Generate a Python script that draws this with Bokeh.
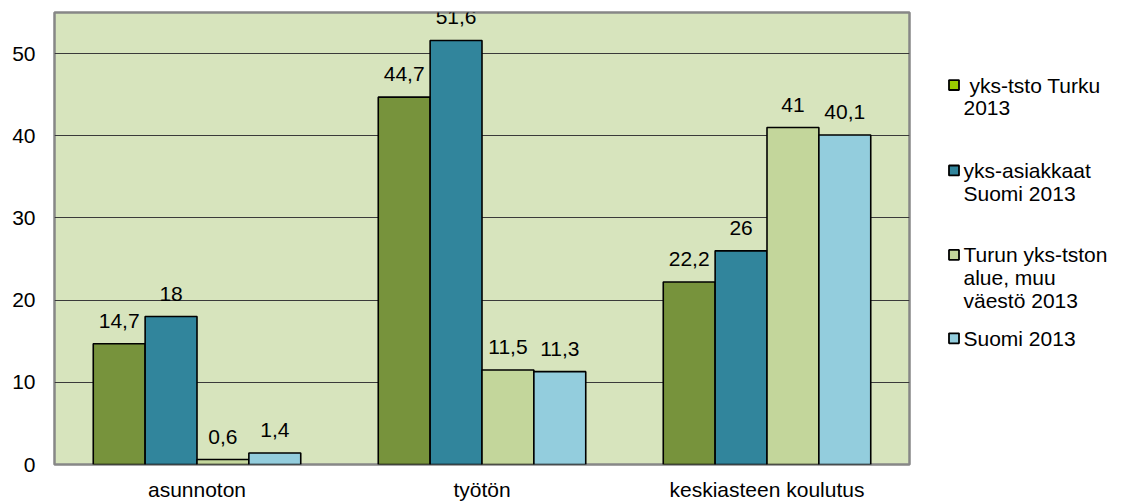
from bokeh.plotting import figure
from bokeh.models import ColumnDataSource, Range1d, FactorRange, LabelSet, FixedTicker
from bokeh.transform import dodge
from bokeh.layouts import row
from bokeh.embed import file_html
from bokeh.resources import INLINE
from bokeh.core.properties import value

categories = ["asunnoton", "työtön", "keskiasteen koulutus"]
series_names = [" yks-tsto Turku\n2013", "yks-asiakkaat\nSuomi 2013",
                "Turun yks-tston\nalue, muu\nväestö 2013", "Suomi 2013"]
turku_yks = [14.7, 44.7, 22.2]
suomi_yks = [18, 51.6, 26]
turku_muu = [0.6, 11.5, 41]
suomi = [1.4, 11.3, 40.1]
series_values = [turku_yks, suomi_yks, turku_muu, suomi]
y_ticks = [0, 10, 20, 30, 40, 50]

bar_colors = ["#77933C", "#31859C", "#C3D69B", "#93CDDD"]
legend_colors = ["#99CC00", "#31859C", "#C3D69B", "#93CDDD"]
FONT = "Liberation Sans"
FS = "21px"
TOP, BOTTOM = 12, 36
H = 503

p = figure(x_range=FactorRange(*categories), y_range=Range1d(0, 55),
           width=913, height=H, output_backend="svg", toolbar_location=None,
           min_border_left=54, min_border_right=4, min_border_top=TOP, min_border_bottom=BOTTOM)
p.background_fill_color = "#D7E4BD"
p.border_fill_color = "white"
p.outline_line_color = "#878787"
p.outline_line_width = 2.5

bw = 0.182
offsets = [-1.5 * bw, -0.5 * bw, 0.5 * bw, 1.5 * bw]
for vals, col, off in zip(series_values, bar_colors, offsets):
    src = ColumnDataSource(dict(cat=categories, v=vals,
                                lbl=[f"{x:g}".replace(".", ",") for x in vals]))
    p.vbar(x=dodge("cat", off, range=p.x_range), top="v", width=bw, source=src,
           fill_color=col, line_color="black", line_width=1.6)
    p.add_layout(LabelSet(x=dodge("cat", off, range=p.x_range), y="v", text="lbl",
                          source=src, y_offset=16, text_align="center",
                          text_baseline="alphabetic", text_font=value(FONT),
                          text_font_size=FS, text_color="black"))

p.xgrid.grid_line_color = None
p.ygrid.ticker = FixedTicker(ticks=y_ticks[1:])
p.ygrid.grid_line_color = "#3a3a3a"
p.ygrid.grid_line_width = 1.2
p.yaxis.ticker = FixedTicker(ticks=y_ticks)
for ax in (p.xaxis, p.yaxis):
    ax.axis_line_color = None
    ax.major_tick_line_color = None
    ax.minor_tick_line_color = None
    ax.major_tick_out = 0
    ax.major_tick_in = 0
    ax.major_label_text_font = FONT
    ax.major_label_text_font_size = FS
    ax.major_label_text_color = "black"
p.yaxis.major_label_standoff = 19
p.xaxis.major_label_standoff = 13

# legend panel: frame aligned with the main frame, y in page pixels
leg = figure(width=200, height=H, x_range=Range1d(0, 200), y_range=Range1d(H - BOTTOM, TOP),
             output_backend="svg", toolbar_location=None,
             min_border=0, min_border_left=0, min_border_right=0,
             min_border_top=TOP, min_border_bottom=BOTTOM)
leg.axis.visible = False
leg.grid.visible = False
leg.outline_line_color = None
leg.background_fill_color = "white"
swatch_centers = [85, 171, 256, 340]
line_gap = 23
sw_x, txt_x, space_w = 40.5, 50, 6
sx, sy, tx, ty, tt = [], [], [], [], []
for name, c in zip(series_names, swatch_centers):
    sx.append(sw_x)
    sy.append(c)
    for k, line in enumerate(name.split("\n")):
        lead = len(line) - len(line.lstrip(" "))
        tx.append(txt_x + lead * space_w)
        ty.append(c + k * line_gap)
        tt.append(line.lstrip(" "))
leg.rect(x=sx, y=sy, width=10, height=10, fill_color=legend_colors,
         line_color="black", line_width=1.8)
leg.text(x=tx, y=ty, text=tt, text_font=value(FONT), text_font_size=FS,
         text_baseline="alphabetic", text_align="left", text_color="black")

layout = row(p, leg)
open("out.html", "w").write(file_html(layout, INLINE))
